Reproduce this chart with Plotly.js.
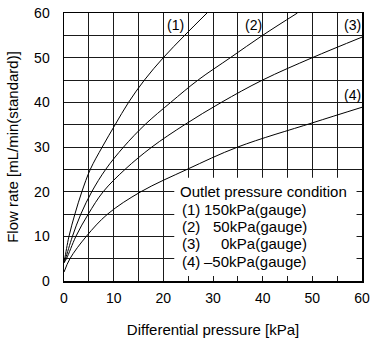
<!DOCTYPE html>
<html>
<head>
<meta charset="utf-8">
<script src="https://cdn.plot.ly/plotly-3.0.1.min.js"></script>
<style>html,body{margin:0;padding:0;background:#fff;}#chart{width:372px;height:345px;}</style>
</head>
<body>
<div id="chart"></div>
<script>
// Data
const curve1X = [0, 0.15, 1.0, 2.2, 3.6, 5.3, 7.7, 10.3, 13.0, 16.2, 20.0, 24.3, 28.8];
const curve1Y = [4.1, 5, 10, 15, 20, 25, 30, 35, 40, 45, 50, 55, 60];
const curve2X = [0, 0.3, 1.7, 3.4, 5.6, 8.4, 12.0, 16.3, 21.5, 27.0, 33.5, 40.0, 47.0];
const curve2Y = [4.1, 5, 10, 15, 20, 25, 30, 35, 40, 45, 50, 55, 60];
const curve3X = [0, 0.5, 2.4, 4.9, 7.9, 12.3, 17.7, 24.3, 31.7, 40.0, 50.0, 60];
const curve3Y = [4.1, 5, 10, 15, 20, 25, 30, 35, 40, 45, 50, 54.6];
const curve4X = [0, 1.2, 4.5, 8.8, 15.5, 24.8, 35, 50, 60];
const curve4Y = [2.0, 5, 10, 15, 20, 25, 30, 35.4, 38.9];
const curveNames = ['(1)', '(2)', '(3)', '(4)'];
const legendTitle = 'Outlet pressure condition';
const legendValues = ['150kPa(gauge)', '50kPa(gauge)', '0kPa(gauge)', '\u201350kPa(gauge)'];
const tickVals = [0, 10, 20, 30, 40, 50, 60];
const tickText = ['0', '10', '20', '30', '40', '50', '60'];

const xs = [curve1X, curve2X, curve3X, curve4X];
const ys = [curve1Y, curve2Y, curve3Y, curve4Y];
const FONT = 'Liberation Sans, Arial, Helvetica, sans-serif';

const traces = xs.map((x, i) => ({
  x: x, y: ys[i], type: 'scatter', mode: 'lines', name: curveNames[i],
  line: {color: 'black', width: 1, shape: 'spline', smoothing: 1},
  hoverinfo: 'skip'
}));

// curve label placement (layout)
const labelPos = [[22.4, 57.4], [38.2, 57.4], [58.1, 57.4], [58.0, 41.6]];
const annotations = curveNames.map((t, i) => ({
  x: labelPos[i][0], y: labelPos[i][1], xref: 'x', yref: 'y', text: t,
  showarrow: false, font: {family: FONT, size: 14, color: 'black'},
  xanchor: 'center', yanchor: 'middle'
}));
annotations.push({
  x: 22.9, y: 20, xref: 'x', yref: 'y', text: legendTitle, showarrow: false,
  font: {family: FONT, size: 15, color: 'black'}, xanchor: 'left', yanchor: 'middle'
});
const rowYs = [16.1, 12.2, 8.3, 4.4];
legendValues.forEach((v, i) => {
  const yy = rowYs[i];
  annotations.push({
    x: 23.3, y: yy, xref: 'x', yref: 'y', text: curveNames[i], showarrow: false,
    font: {family: FONT, size: 15, color: 'black'}, xanchor: 'left', yanchor: 'middle'
  });
  annotations.push({
    x: 49.4, y: yy, xref: 'x', yref: 'y', text: v, showarrow: false,
    font: {family: FONT, size: 15, color: 'black'}, xanchor: 'right', yanchor: 'middle'
  });
});

const axisCommon = {
  range: [0, 60], tickmode: 'array', tickvals: tickVals, ticktext: tickText,
  showgrid: true, gridcolor: '#1a1a1a', gridwidth: 1,
  minor: {dtick: 5, tick0: 0, showgrid: true, gridcolor: '#1a1a1a', gridwidth: 1},
  showline: true, mirror: true, linecolor: 'black', linewidth: 1.5,
  zeroline: false, ticks: '', tickfont: {family: FONT, size: 14, color: 'black'},
  fixedrange: true
};

const layout = {
  width: 372, height: 345,
  margin: {l: 64, r: 10, t: 13, b: 64},
  paper_bgcolor: 'white', plot_bgcolor: 'white',
  showlegend: false,
  font: {family: FONT, size: 14, color: 'black'},
  xaxis: Object.assign({}, axisCommon, {
    ticklabelstandoff: 4,
    title: {text: 'Differential pressure [kPa]', font: {family: FONT, size: 15, color: 'black'}, standoff: 19}
  }),
  yaxis: Object.assign({}, axisCommon, {
    ticklabelstandoff: 10,
    title: {text: 'Flow rate [mL/min(standard)]', font: {family: FONT, size: 15, color: 'black'}, standoff: 12}
  }),
  shapes: [{
    type: 'rect', xref: 'x', yref: 'y', x0: 22.2, x1: 58.9, y0: 1.1, y1: 23.1,
    fillcolor: 'white', line: {width: 0}, layer: 'above'
  }],
  annotations: annotations
};

Plotly.newPlot('chart', traces, layout, {staticPlot: true, displayModeBar: false});
</script>
</body>
</html>
